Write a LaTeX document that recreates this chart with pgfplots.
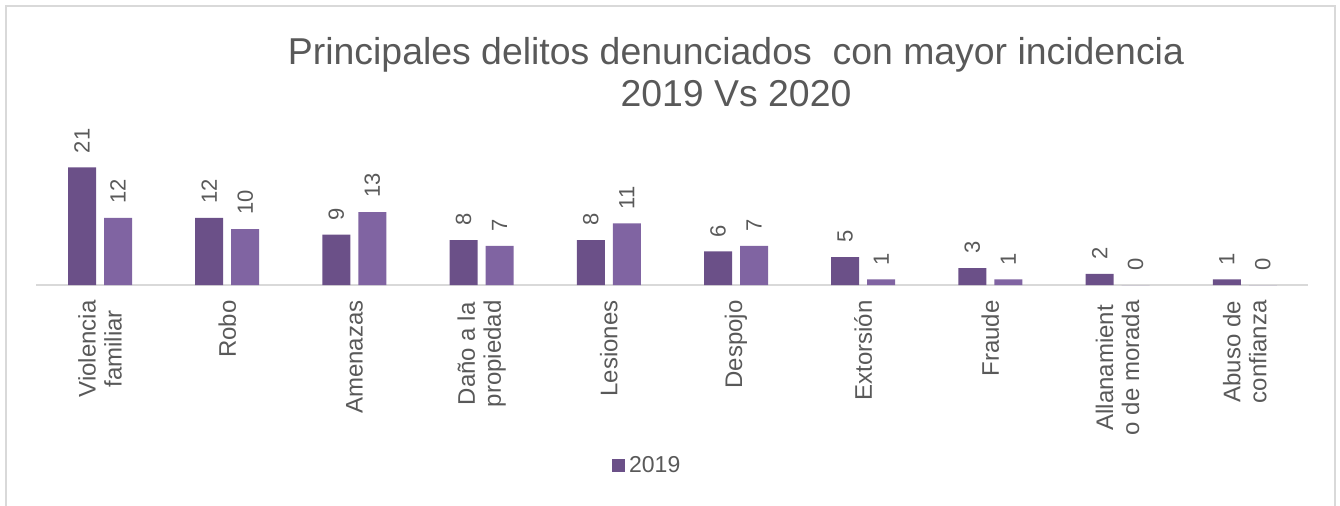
\documentclass[border=0pt]{standalone}
\usepackage{fontspec}
\setmainfont{Liberation Sans}
\usepackage{pgfplots}
\pgfplotsset{compat=1.18}
\definecolor{darkpurple}{HTML}{6B5088}
\definecolor{lightpurple}{HTML}{8064A2}
\definecolor{txtgray}{HTML}{595959}
\definecolor{linegray}{HTML}{D9D9D9}
\begin{document}
\begin{tikzpicture}
\useasboundingbox (0,0) rectangle (670pt,252.5pt);
\draw[linegray, line width=1pt] (3pt,-5pt) -- (3pt,249.5pt) -- (667.5pt,249.5pt) -- (667.5pt,-5pt);
\begin{axis}[
  at={(18.2pt,110pt)}, anchor=south west,
  scale only axis,
  width=636pt, height=70pt,
  xmin=-0.5, xmax=9.5,
  ymin=0, ymax=25,
  ybar=4pt, bar width=14pt,
  axis x line*=bottom,
  hide y axis,
  axis line style={draw=linegray, line width=1pt, -},
  xtick={0,...,9},
  major tick length=0pt,
  xticklabels={
    Violencia\\familiar,
    Robo,
    Amenazas,
    Daño a la\\propiedad,
    Lesiones,
    Despojo,
    Extorsión,
    Fraude,
    Allanamient\\o de morada,
    Abuso de\\confianza},
  xticklabel style={rotate=90, anchor=east, align=center,
    font=\fontsize{12pt}{13pt}\selectfont, text=txtgray, inner sep=0pt},
  xticklabel shift=7.5pt,
  nodes near coords,
  nodes near coords style={rotate=90, anchor=west, inner ysep=0pt, inner xsep=7pt,
    font=\fontsize{11pt}{12pt}\selectfont, text=txtgray,
    /pgf/number format/assume math mode=true},
  clip=false,
  title={Principales delitos denunciados \ con mayor incidencia\\2019 Vs 2020},
  title style={at={(0.55,1.735)}, anchor=north, align=center,
    font=\fontsize{18.7pt}{21pt}\selectfont, text=txtgray},
  legend style={at={(0.481,-1.293)}, anchor=center, draw=none,
    font=\fontsize{11.5pt}{13pt}\selectfont, text=txtgray,
    /tikz/every even column/.append style={column sep=2pt}},
  legend image code/.code={\fill[#1] (0pt,-3pt) rectangle (6.5pt,3.5pt);},
]
\addplot[fill=darkpurple, draw=none] coordinates {
  (0,21) (1,12) (2,9) (3,8) (4,8) (5,6) (6,5) (7,3) (8,2) (9,1)};
\addplot[fill=lightpurple, draw=none] coordinates {
  (0,12) (1,10) (2,13) (3,7) (4,11) (5,7) (6,1) (7,1) (8,0) (9,0)};
\legend{2019}
\end{axis}
\end{tikzpicture}
\end{document}
